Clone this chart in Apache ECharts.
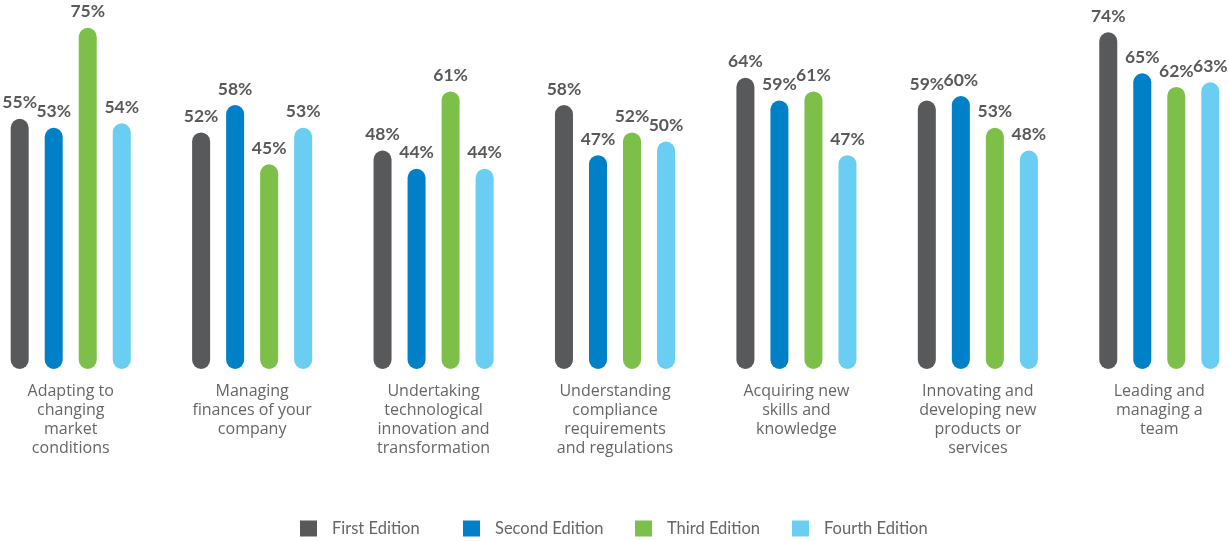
<!DOCTYPE html>
<html>
<head>
<meta charset="utf-8">
<style>
  html, body { margin: 0; padding: 0; background: #ffffff; }
  #chart { width: 1229px; height: 541px; }
</style>
<script src="https://cdn.jsdelivr.net/npm/echarts@6/dist/echarts.min.js"></script>
</head>
<body>
<div id="chart"></div>
<script>
// Skill areas, wrapped the way they appear under each group of bars
const categories = [
  'Adapting to\nchanging\nmarket\nconditions',
  'Managing\nfinances of your\ncompany',
  'Undertaking\ntechnological\ninnovation and\ntransformation',
  'Understanding\ncompliance\nrequirements\nand regulations',
  'Acquiring new\nskills and\nknowledge',
  'Innovating and\ndeveloping new\nproducts or\nservices',
  'Leading and\nmanaging a\nteam'
];

// Share of respondents (%) per edition
const firstEdition  = [55, 52, 48, 58, 64, 59, 74];
const secondEdition = [53, 58, 44, 47, 59, 60, 65];
const thirdEdition  = [75, 45, 61, 52, 61, 53, 62];
const fourthEdition = [54, 53, 44, 50, 47, 48, 63];

const seriesNames = ['First Edition', 'Second Edition', 'Third Edition', 'Fourth Edition'];
const seriesColors = ['#58595b', '#0080c6', '#7cc04a', '#69cef1'];
const seriesData = [firstEdition, secondEdition, thirdEdition, fourthEdition];

// Left edge of each legend entry along the bottom row
const legendLefts = [300, 463, 635, 792];

const fontFamily = 'Lato, "Open Sans", sans-serif';

const chart = echarts.init(document.getElementById('chart'), null, { renderer: 'canvas' });

chart.setOption({
  animation: false,
  textStyle: { fontFamily: fontFamily },
  grid: {
    left: -20,
    width: 1270,
    top: 5,
    bottom: 172,
    containLabel: false,
    outerBoundsMode: 'none'
  },
  legend: seriesNames.map((name, i) => ({
    top: 520,
    left: legendLefts[i],
    padding: 0,
    itemWidth: 17,
    itemHeight: 16,
    icon: 'rect',
    textStyle: { color: '#666666', fontSize: 16.5, fontFamily: fontFamily, padding: [7, 0, 0, 10] },
    data: [name]
  })),
  xAxis: {
    type: 'category',
    data: categories,
    axisLine: { show: false },
    axisTick: { show: false },
    axisLabel: {
      color: '#666666',
      fontSize: 16,
      lineHeight: 19,
      margin: 13,
      interval: 0,
      fontFamily: '"Open Sans", Lato, sans-serif'
    }
  },
  yAxis: {
    type: 'value',
    min: 0,
    max: 80,
    show: false,
    splitLine: { show: false }
  },
  series: seriesData.map((data, i) => ({
    name: seriesNames[i],
    type: 'bar',
    data: data,
    barWidth: 18,
    barGap: '89%',
    itemStyle: { color: seriesColors[i], borderRadius: 9 },
    label: {
      show: true,
      position: 'top',
      distance: 7,
      formatter: '{c}%',
      color: '#58595b',
      fontSize: 17.5,
      fontWeight: 'bold',
      fontFamily: fontFamily
    }
  }))
});
</script>
</body>
</html>
